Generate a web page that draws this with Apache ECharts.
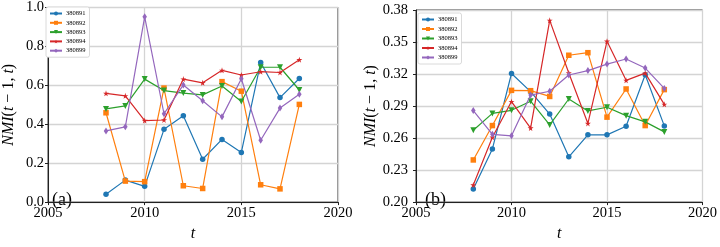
<!DOCTYPE html>
<html>
<head>
<meta charset="utf-8">
<script src="https://cdn.jsdelivr.net/npm/echarts@6/dist/echarts.min.js"></script>
<style>
  html, body { margin: 0; padding: 0; background: #fff; }
  #chart { width: 720px; height: 247px; }
</style>
</head>
<body>
<div id="chart"></div>
<script>
// NMI(t-1, t) per dataset, panels (a) and (b)
const years = [2008, 2009, 2010, 2011, 2012, 2013, 2014, 2015, 2016, 2017, 2018];
const seriesNames = ["380891", "380892", "380893", "380894", "380899"];
const xTicks = [2005, 2010, 2015, 2020];

// panel (a)
const a380891 = [0.040, 0.113, 0.081, 0.374, 0.444, 0.220, 0.322, 0.255, 0.717, 0.537, 0.635];
const a380892 = [0.459, 0.108, 0.105, 0.586, 0.084, 0.070, 0.619, 0.570, 0.089, 0.068, 0.502];
const a380893 = [0.479, 0.494, 0.632, 0.573, 0.560, 0.551, 0.597, 0.517, 0.693, 0.693, 0.576];
const a380894 = [0.559, 0.546, 0.419, 0.422, 0.632, 0.613, 0.677, 0.653, 0.670, 0.666, 0.732];
const a380899 = [0.366, 0.387, 0.952, 0.454, 0.602, 0.521, 0.438, 0.634, 0.318, 0.483, 0.554];

// panel (b)
const b380891 = [0.2123, 0.2498, 0.3205, 0.3035, 0.2825, 0.2424, 0.2630, 0.2630, 0.2711, 0.3194, 0.2714];
const b380892 = [0.2395, 0.2717, 0.3047, 0.3044, 0.2990, 0.3376, 0.3400, 0.2796, 0.3060, 0.2717, 0.3054];
const b380893 = [0.2673, 0.2831, 0.2860, 0.2945, 0.2723, 0.2966, 0.2854, 0.2889, 0.2810, 0.2752, 0.2658];
const b380894 = [0.2161, 0.2608, 0.2942, 0.2694, 0.3703, 0.3210, 0.2737, 0.3507, 0.3141, 0.3209, 0.2916];
const b380899 = [0.2858, 0.2635, 0.2621, 0.3003, 0.3039, 0.3191, 0.3232, 0.3293, 0.3341, 0.3256, 0.3065];

const panelA = [a380891, a380892, a380893, a380894, a380899];
const panelB = [b380891, b380892, b380893, b380894, b380899];

const SERIF = "'Liberation Serif', serif";
const colors = ["#1f77b4", "#ff7f0e", "#2ca02c", "#d62728", "#9467bd"];
const STAR = "path://M50,0 L61,35 L98,35 L68,57 L79,91 L50,70 L21,91 L32,57 L2,35 L39,35 Z";
const markers = [
  { symbol: "circle", symbolSize: 5.5, symbolRotate: 0 },
  { symbol: "rect", symbolSize: 5.5, symbolRotate: 0 },
  { symbol: "triangle", symbolSize: 6, symbolRotate: 180 },
  { symbol: STAR, symbolSize: 6, symbolRotate: 0 },
  { symbol: "diamond", symbolSize: [4.5, 7], symbolRotate: 0 }
];

const chart = echarts.init(document.getElementById("chart"));

const grids = [
  { left: 42, top: 5, width: 296, height: 209 },
  { left: 416, top: 10, width: 289, height: 205 }
];

function xAxis(i) {
  return {
    gridIndex: i,
    type: "value",
    min: xTicks[0],
    max: xTicks[xTicks.length - 1],
    interval: 5,
    name: "t",
    nameLocation: "middle",
    nameGap: 22,
    nameTextStyle: { fontFamily: SERIF, fontStyle: "italic", fontSize: 16, color: "#000" },
    axisLine: { show: true, lineStyle: { color: "#222", width: 1 } },
    axisTick: { show: true, length: 3, inside: false, lineStyle: { color: "#222" } },
    axisLabel: { fontFamily: SERIF, fontSize: 14.5, color: "#000", margin: 4, formatter: (v) => String(v) },
    splitLine: { show: true, lineStyle: { color: "#d4d4d4", width: 1.3 } }
  };
}

function yAxis(i, min, max, step, digits, gap, labelMargin) {
  return {
    gridIndex: i,
    type: "value",
    min: min,
    max: max,
    interval: step,
    name: "{i|NMI}(" + "{i|t}" + " − 1, " + "{i|t})",
    nameLocation: "middle",
    nameGap: gap,
    nameRotate: 90,
    nameTextStyle: {
      fontFamily: SERIF, fontSize: 16, color: "#000",
      rich: { i: { fontFamily: SERIF, fontStyle: "italic", fontSize: 16, color: "#000" } }
    },
    axisLine: { show: true, lineStyle: { color: "#222", width: 1 } },
    axisTick: { show: true, length: 3, lineStyle: { color: "#222" } },
    axisLabel: { fontFamily: SERIF, fontSize: 14.5, color: "#000", margin: labelMargin, formatter: (v) => v.toFixed(digits) },
    splitLine: { show: true, lineStyle: { color: "#d4d4d4", width: 1.3 } }
  };
}

function buildSeries(panel, idx) {
  return panel.map((vals, k) => ({
    name: seriesNames[k],
    type: "line",
    xAxisIndex: idx,
    yAxisIndex: idx,
    data: years.map((y, j) => [y, vals[j]]),
    symbol: markers[k].symbol,
    symbolSize: markers[k].symbolSize,
    symbolRotate: markers[k].symbolRotate,
    showAllSymbol: true,
    color: colors[k],
    lineStyle: { color: colors[k], width: 1.2 },
    itemStyle: { color: colors[k], borderWidth: 0 },
    emphasis: { disabled: true },
    z: 3 + k,
    animation: false
  }));
}

function legend(left, top, gap) {
  return {
    left: left,
    top: top,
    orient: "vertical",
    data: seriesNames,
    itemWidth: 12,
    itemHeight: 5,
    itemGap: gap,
    padding: [3, 4, 3, 3],
    backgroundColor: "#fff",
    borderColor: "#d0d0d0",
    borderWidth: 0.8,
    borderRadius: 2,
    textStyle: { fontFamily: SERIF, fontSize: 6.5, color: "#000", padding: [0, 0, 0, -1] }
  };
}

chart.setOption({
  animation: false,
  backgroundColor: "#fff",
  grid: grids.map((g) => Object.assign({ show: true, borderColor: "#222", borderWidth: 1, backgroundColor: "transparent" }, g)),
  xAxis: [xAxis(0), xAxis(1)],
  yAxis: [
    yAxis(0, 0, 1, 0.2, 1, 31, 4),
    yAxis(1, 0.2, 0.38, 0.03, 2, 33, 8)
  ],
  legend: [legend(46, 7, 2.3), legend(418, 13, 2.5)],
  series: buildSeries(panelA, 0).concat(buildSeries(panelB, 1)),
  graphic: [
    { type: "text", left: 52, top: 191, style: { text: "(a)", font: "18px " + SERIF, fill: "#000" } },
    { type: "text", left: 425, top: 191, style: { text: "(b)", font: "18px " + SERIF, fill: "#000" } }
  ]
});
</script>
</body>
</html>
